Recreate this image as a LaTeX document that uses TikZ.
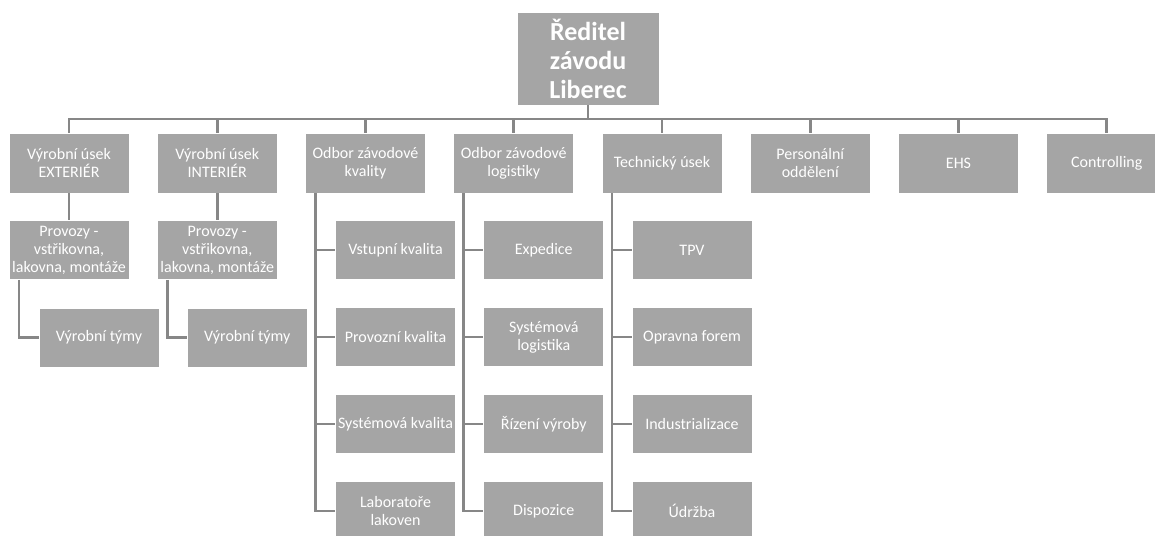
\documentclass[tikz,border=0pt]{standalone}
\usepackage{fontspec}
\setmainfont{Carlito}
\definecolor{boxgray}{HTML}{A5A5A5}
\definecolor{linegray}{HTML}{878787}
\tikzset{
  orgbox/.style={rectangle, fill=boxgray, draw=white, line width=0.8pt, text=white,
    minimum width=120pt, minimum height=59pt, inner sep=0pt, align=center,
    font=\fontsize{16}{18}\selectfont},
  topbox/.style={orgbox, minimum width=142pt, minimum height=93pt,
    font=\bfseries\fontsize{26}{29}\selectfont},
  link/.style={draw=linegray, line width=2.6pt}
}
\begin{document}
\begin{tikzpicture}[x=1pt,y=-1pt]
\useasboundingbox (0,0) rectangle (1155,535);
\node[topbox] (top) at (588,58.5) {Ředitel\\závodu\\Liberec};
% level 1
\node[orgbox,minimum height=60pt] (c1) at (69,163) {Výrobní úsek\\EXTERIÉR};
\node[orgbox,minimum height=60pt] (c2) at (217.25,163) {Výrobní úsek\\INTERIÉR};
\node[orgbox,minimum height=60pt] (c3) at (365.5,163) {Odbor závodové\\kvality};
\node[orgbox,minimum height=60pt] (c4) at (513.75,163) {Odbor závodové\\logistiky};
\node[orgbox,minimum height=60pt] (c5) at (662,163) {Technický úsek};
\node[orgbox,minimum height=60pt] (c6) at (810.25,163) {Personální\\oddělení};
\node[orgbox,minimum height=60pt] (c7) at (958.5,163) {EHS};
\node[orgbox,minimum height=60pt] (c8) at (1106.75,163) {Controlling};
% columns 1,2
\node[orgbox] (p1) at (69,250) {Provozy -\\vstřikovna,\\lakovna, montáže};
\node[orgbox] (t1) at (99,337.5) {Výrobní týmy};
\node[orgbox] (p2) at (217.25,250) {Provozy -\\vstřikovna,\\lakovna, montáže};
\node[orgbox] (t2) at (247.25,337.5) {Výrobní týmy};
% column 3
\node[orgbox] (k1) at (395.5,250) {Vstupní kvalita};
\node[orgbox] (k2) at (395.5,337) {Provozní kvalita};
\node[orgbox] (k3) at (395.5,424) {Systémová kvalita};
\node[orgbox] (k4) at (395.5,511) {Laboratoře\\lakoven};
% column 4
\node[orgbox] (l1) at (543.75,250) {Expedice};
\node[orgbox] (l2) at (543.75,337) {Systémová\\logistika};
\node[orgbox] (l3) at (543.75,424) {Řízení výroby};
\node[orgbox] (l4) at (543.75,511) {Dispozice};
% column 5
\node[orgbox] (s1) at (692,250) {TPV};
\node[orgbox] (s2) at (692,337) {Opravna forem};
\node[orgbox] (s3) at (692,424) {Industrializace};
\node[orgbox] (s4) at (692,511) {Údržba};
% connectors
\foreach \c in {c1,c2,c3,c4,c5,c6,c7,c8}
  \draw[link] (top.south) -- ++(0,13.5) -| (\c.north);
\draw[link] (c1.south) -- (p1.north);
\draw[link] (c2.south) -- (p2.north);
\draw[link] ([xshift=-50pt]p1.south) |- (t1.west);
\draw[link] ([xshift=-50pt]p2.south) |- (t2.west);
\foreach \k in {k1,k2,k3,k4}
  \draw[link] ([xshift=-50pt]c3.south) |- (\k.west);
\foreach \k in {l1,l2,l3,l4}
  \draw[link] ([xshift=-50pt]c4.south) |- (\k.west);
\foreach \k in {s1,s2,s3,s4}
  \draw[link] ([xshift=-50pt]c5.south) |- (\k.west);
\end{tikzpicture}
\end{document}
